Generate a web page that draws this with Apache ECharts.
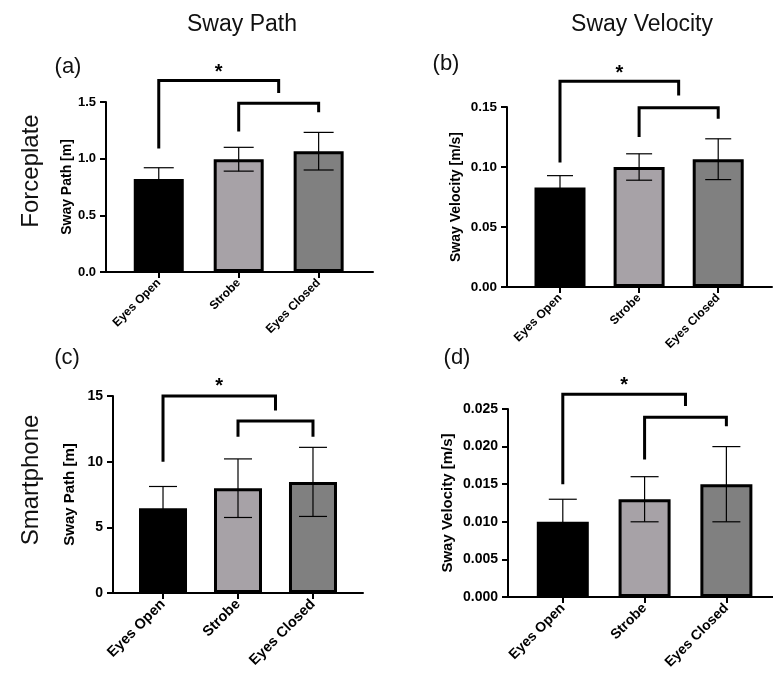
<!DOCTYPE html>
<html>
<head>
<meta charset="utf-8">
<title>Sway Path / Sway Velocity</title>
<script src="https://cdn.jsdelivr.net/npm/echarts@6/dist/echarts.min.js"></script>
<style>
  html, body { margin: 0; padding: 0; background: #fff; }
  #main { width: 773px; height: 678px; }
</style>
</head>
<body>
<div id="main"></div>
<script>
const categories = ["Eyes Open", "Strobe", "Eyes Closed"];
const barColors = ["#000000", "#a7a2a7", "#808080"];

// (a) forceplate, sway path [m]
const pathForceMean = [0.82, 0.995, 1.066];
const pathForceSD = [0.10, 0.105, 0.166];
// (b) forceplate, sway velocity [m/s]
const velForceMean = [0.083, 0.100, 0.1065];
const velForceSD = [0.0098, 0.011, 0.017];
// (c) smartphone, sway path [m]
const pathPhoneMean = [6.46, 7.98, 8.46];
const pathPhoneSD = [1.65, 2.23, 2.63];
// (d) smartphone, sway velocity [m/s]
const velPhoneMean = [0.010, 0.013, 0.015];
const velPhoneSD = [0.003, 0.003, 0.005];

// brackets: [from, to, left end, top, right end]
const bracketsA = [[0, 1.5, 1.09, 1.69, 1.58], [1, 2, 1.24, 1.49, 1.41]];
const bracketsB = [[0, 1.5, 0.1037, 0.1715, 0.1595], [1, 2, 0.1249, 0.1494, 0.1402]];
const bracketsC = [[0, 1.5, 10.0, 15.0, 13.9], [1, 2, 11.9, 13.1, 11.9]];
const bracketsD = [[0, 1.5, 0.0150, 0.02695, 0.0254], [1, 2, 0.0183, 0.0239, 0.0227]];
// significance stars: [x, y]
const starsA = [[0.75, 1.797]];
const starsB = [[0.75, 0.1814]];
const starsC = [[0.75, 16.04]];
const starsD = [[0.75, 0.02862]];

// y axis ticks
const yMax = [1.5, 0.15, 15, 0.025];
const yStep = [0.5, 0.05, 5, 0.005];
const yDigits = [1, 2, 0, 3];
const yNames = ["Sway Path [m]", "Sway Velocity [m/s]", "Sway Path [m]", "Sway Velocity [m/s]"];

const FONT = "Liberation Sans, Arial, Helvetica, sans-serif";

const panels = [
  { grid: { left: 106, right: 400, top: 102, bottom: 406 }, xMin: -0.66, xMax: 2.68, bar: 50, cap: 30,
    tick: 13, name: 14, cat: 12, gap: 30, means: pathForceMean, sds: pathForceSD, brackets: bracketsA, stars: starsA },
  { grid: { left: 507, right: 1, top: 107, bottom: 391 }, xMin: -0.67, xMax: 2.68, bar: 51, cap: 26,
    tick: 13.5, name: 14, cat: 12, gap: 44, means: velForceMean, sds: velForceSD, brackets: bracketsB, stars: starsB },
  { grid: { left: 113, right: 410, top: 396, bottom: 85 }, xMin: -0.667, xMax: 2.667, bar: 48, cap: 28,
    tick: 14, name: 15, cat: 14.5, gap: 36, means: pathPhoneMean, sds: pathPhoneSD, brackets: bracketsC, stars: starsC },
  { grid: { left: 508, right: 0, top: 409, bottom: 81 }, xMin: -0.67, xMax: 2.57, bar: 52, cap: 28,
    tick: 14, name: 15, cat: 14, gap: 53, means: velPhoneMean, sds: velPhoneSD, brackets: bracketsD, stars: starsD }
];

const grids = [], xAxes = [], yAxes = [], series = [];

panels.forEach(function (p, i) {
  grids.push(p.grid);
  xAxes.push({
    type: "value", gridIndex: i, min: p.xMin, max: p.xMax,
    axisLine: { show: true, onZero: false, lineStyle: { color: "#000", width: 2 } },
    axisTick: { show: true, customValues: [0, 1, 2], length: 6, lineStyle: { color: "#000", width: 2 } },
    axisLabel: {
      customValues: [0, 1, 2], rotate: 45, margin: 9, color: "#000",
      fontFamily: FONT, fontWeight: "bold", fontSize: p.cat,
      formatter: function (v) { return categories[Math.round(v)]; }
    },
    splitLine: { show: false }
  });
  yAxes.push({
    type: "value", gridIndex: i, min: 0, max: yMax[i], interval: yStep[i],
    name: yNames[i], nameLocation: "middle", nameGap: p.gap,
    nameTextStyle: { color: "#000", fontFamily: FONT, fontWeight: "bold", fontSize: p.name },
    axisLine: { show: true, onZero: false, lineStyle: { color: "#000", width: 2 } },
    axisTick: { show: true, length: 6, lineStyle: { color: "#000", width: 2 } },
    axisLabel: {
      margin: 10, color: "#000", fontFamily: FONT, fontWeight: "bold", fontSize: p.tick,
      formatter: function (v) { return v.toFixed(yDigits[i]); }
    },
    splitLine: { show: false }
  });

  series.push({
    type: "bar", xAxisIndex: i, yAxisIndex: i, barWidth: p.bar, z: 2,
    data: p.means.map(function (m, k) {
      return { value: [k, m], itemStyle: { color: barColors[k], borderColor: "#000", borderWidth: 3 } };
    })
  });

  // error bars (mean ± SD)
  series.push({
    type: "custom", xAxisIndex: i, yAxisIndex: i, z: 3, silent: true,
    data: p.means.map(function (m, k) { return [k, m - p.sds[k], m + p.sds[k]]; }),
    renderItem: function (params, api) {
      const lo = api.coord([api.value(0), api.value(1)]);
      const hi = api.coord([api.value(0), api.value(2)]);
      const w = p.cap / 2;
      const st = { stroke: "#000", lineWidth: 1.2 };
      return { type: "group", children: [
        { type: "line", shape: { x1: lo[0], y1: lo[1], x2: hi[0], y2: hi[1] }, style: st },
        { type: "line", shape: { x1: hi[0] - w, y1: hi[1], x2: hi[0] + w, y2: hi[1] }, style: st },
        { type: "line", shape: { x1: lo[0] - w, y1: lo[1], x2: lo[0] + w, y2: lo[1] }, style: st }
      ] };
    }
  });

  // significance brackets
  series.push({
    type: "custom", xAxisIndex: i, yAxisIndex: i, z: 4, silent: true,
    data: p.brackets,
    renderItem: function (params, api) {
      const a = api.coord([api.value(0), api.value(2)]);
      const b = api.coord([api.value(0), api.value(3)]);
      const c = api.coord([api.value(1), api.value(3)]);
      const d = api.coord([api.value(1), api.value(4)]);
      return { type: "polyline", shape: { points: [a, b, c, d] },
        style: { stroke: "#000", lineWidth: 3, fill: null, lineJoin: "miter" } };
    }
  });

  series.push({
    type: "custom", xAxisIndex: i, yAxisIndex: i, z: 4, silent: true,
    data: p.stars,
    renderItem: function (params, api) {
      const pt = api.coord([api.value(0), api.value(1)]);
      return { type: "text", x: pt[0], y: pt[1] + 4,
        style: { text: "*", fill: "#000", font: "bold 20px " + FONT, align: "center", verticalAlign: "middle" } };
    }
  });
});

function label(text, x, y, size, rot) {
  return { type: "text", x: x, y: y, rotation: rot || 0,
    style: { text: text, fill: "#111", font: size + "px " + FONT, align: "center", verticalAlign: "middle" } };
}

const chart = echarts.init(document.getElementById("main"));
chart.setOption({
  animation: false,
  backgroundColor: "#fff",
  grid: grids,
  xAxis: xAxes,
  yAxis: yAxes,
  series: series,
  graphic: [
    label("Sway Path", 242, 25, 23),
    label("Sway Velocity", 642, 25, 23),
    label("Forceplate", 31, 171, 24, Math.PI / 2),
    label("Smartphone", 31, 480, 24, Math.PI / 2),
    label("(a)", 68, 67, 22),
    label("(b)", 446, 64, 22),
    label("(c)", 67, 358, 22),
    label("(d)", 457, 358, 22)
  ]
});

window.addEventListener("resize", function () {
  chart.resize();
});
</script>
</body>
</html>
